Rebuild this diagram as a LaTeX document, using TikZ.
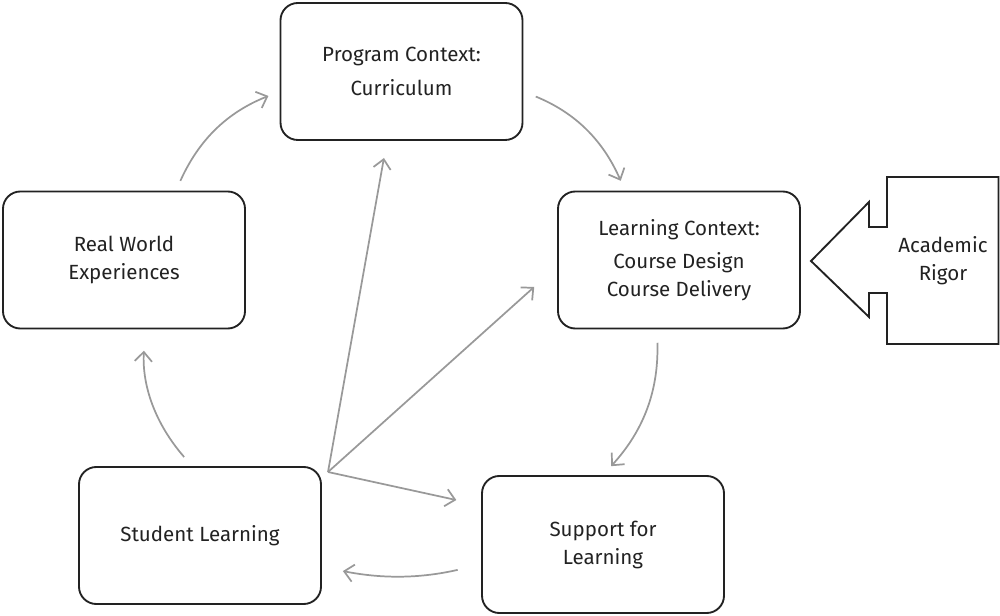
\documentclass[tikz,border=0pt]{standalone}
\usepackage{fontspec}
\setmainfont{Fira Sans}
\usetikzlibrary{arrows.meta}

\definecolor{boxline}{HTML}{222222}
\definecolor{flowgray}{HTML}{999999}

\tikzset{
	ctxbox/.style={draw=boxline, line width=1.4pt, rounded corners=13pt,
		minimum width=181.5pt, minimum height=102.75pt, align=center,
		font=\fontsize{15.4}{21}\selectfont, text=boxline},
	flow/.style={draw=flowgray, line width=1.3pt,
		-{Straight Barb[length=7pt,width=13pt]}},
}

\begin{document}
\begin{tikzpicture}[x=0.75pt, y=-0.75pt]
	\useasboundingbox (0,0) rectangle (1000,616);
	% the five context boxes
	\node[ctxbox] (prog) at (401.5,71.5) {Program Context:\\[5pt] Curriculum};
	\node[ctxbox] (real) at (124,260) {Real World\\ Experiences};
	\node[ctxbox] (learn) at (679,260) {Learning Context:\\[4pt] Course Design\\ Course Delivery};
	\node[ctxbox] (support) at (603,544.5) {Support for\\ Learning};
	\node[ctxbox] (student) at (200,535.5) {Student Learning};
	% academic rigor pointer
	\draw[boxline, line width=1.4pt, line join=miter]
		(887,177) -- (998.5,177) -- (998.5,344) -- (887,344) -- (887,293)
		-- (869,293) -- (869,317) -- (811,261) -- (869,202) -- (869,227)
		-- (887,227) -- cycle;
	\node[font=\fontsize{15.4}{21}\selectfont, text=boxline, align=center]
		(rigor) at (943,261) {Academic\\ Rigor};
	% the cycle
	\draw[flow, shorten <=8pt, shorten >=9pt] ([xshift=39pt]real.north)
		to[bend left=22] ([yshift=-15pt]prog.west);
	\draw[flow, shorten <=10pt, shorten >=8pt] ([yshift=-15pt]prog.east)
		to[bend left=22] ([xshift=-40.5pt]learn.north);
	\draw[flow, shorten <=10pt, shorten >=9pt] ([xshift=-16.5pt]learn.south)
		to[bend left=22] ([xshift=0pt]support.north);
	\draw[flow, shorten <=18pt, shorten >=16pt] ([yshift=-15pt]support.west)
		to[bend left=12] ([yshift=-23.6pt]student.east);
	\draw[flow, shorten <=9pt, shorten >=16pt] ([xshift=-6pt]student.north)
		to[bend left=22] ([xshift=15.75pt]real.south);
	% spokes from student learning
	\coordinate (hub) at (328,472);
	\draw[flow, shorten >=13pt] (hub) -- ([xshift=-10.9pt]prog.south);
	\draw[flow, shorten >=23pt] (hub) -- ([yshift=-4.8pt]learn.west);
	\draw[flow, shorten >=19pt] (hub) -- ([yshift=29.3pt]support.west);
\end{tikzpicture}
\end{document}
